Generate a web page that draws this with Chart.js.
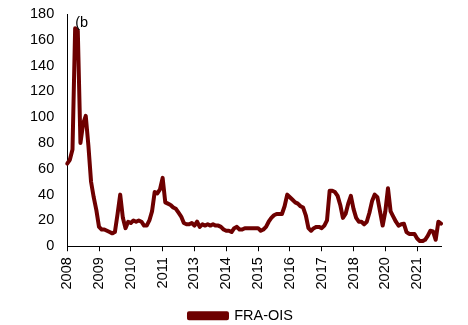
<!DOCTYPE html>
<html>
<head>
<meta charset="utf-8">
<script src="https://cdn.jsdelivr.net/npm/chart.js@4/dist/chart.umd.min.js"></script>
<style>
    html, body { margin: 0; padding: 0; background: #fff; }
    canvas { display: block; }
</style>
</head>
<body>
<canvas id="spread" width="468" height="325"></canvas>
<script>
const LINE_COLOR = '#6E0000';
const FONT = "'Liberation Sans', Arial, sans-serif";
const FONT_SIZE = 14.5;

// FRA-OIS spread, bp
const SERIES_NAME = 'FRA-OIS';
const FRA_OIS = [
    64, 67, 75, 169, 167, 80, 95, 101, 78, 50, 38, 28,
    15, 13, 13, 12, 11, 10, 11, 25, 40, 22, 14, 19,
    18, 20, 19, 20, 19, 16, 16, 20, 27, 42, 41, 44,
    53, 34, 33, 32, 30, 29, 26, 23, 18, 17, 17, 18,
    16, 19, 15, 17, 16, 17, 16, 17, 16, 16, 15, 13,
    12, 12, 11, 14, 15, 13, 13, 14, 14, 14, 14, 14,
    14, 12, 13, 15, 19, 22, 24, 25, 25, 25, 31, 40,
    38, 36, 34, 33, 31, 30, 24, 14, 12, 14, 15, 15,
    14, 16, 20, 43, 43, 42, 39, 32, 22, 25, 33, 39,
    29, 22, 19, 19, 17, 19, 26, 35, 40, 38, 27, 16,
    27, 45, 27, 23, 19, 16, 17, 17.5, 11, 9.5, 9.5, 9.5,
    6, 4, 4, 5, 8, 12, 11.5, 5, 19, 17.5
];

// one year label every LABEL_STEP observations
const TICK_LABELS = ['2008', '2009', '2010', '2011', '2013', '2014', '2015', '2016', '2017', '2018', '2020', '2021'];
const LABEL_STEP = 12;

const categories = FRA_OIS.map((_, i) => (i % LABEL_STEP === 0 ? TICK_LABELS[i / LABEL_STEP] || '' : ''));

// small "(b" caption sitting at the top left of the plot
const captionPlugin = {
    id: 'caption',
    afterDatasetsDraw(chart) {
        const {ctx, chartArea} = chart;
        ctx.save();
        ctx.font = `${FONT_SIZE}px ${FONT}`;
        ctx.fillStyle = '#000';
        ctx.textBaseline = 'alphabetic';
        ctx.fillText('(b', chartArea.left + 8, chartArea.top + 13);
        ctx.restore();
    }
};

// push the legend a bit lower and to the right once the layout is done
const legendShift = {
    id: 'legendShift',
    afterLayout(chart) {
        const legend = chart.legend;
        if (!legend) return;
        legend.top += 8;
        legend.bottom += 8;
        legend.left += 12;
        legend.right += 12;
        if (legend.adjustHitBoxes) legend.adjustHitBoxes();
    }
};

new Chart(document.getElementById('spread'), {
    type: 'line',
    data: {
        labels: categories,
        datasets: [{
            label: SERIES_NAME,
            data: FRA_OIS,
            borderColor: LINE_COLOR,
            backgroundColor: LINE_COLOR,
            borderWidth: 4,
            borderJoinStyle: 'round',
            borderCapStyle: 'round',
            pointRadius: 0,
            tension: 0,
        }]
    },
    options: {
        responsive: false,
        animation: false,
        layout: {
            padding: {top: 14, right: 27, left: 17, bottom: 0}
        },
        plugins: {
            legend: {
                position: 'bottom',
                labels: {
                    color: '#000',
                    font: {family: FONT, size: FONT_SIZE},
                    boxWidth: 38,
                    boxHeight: 5,
                    padding: 5,
                }
            },
            tooltip: {enabled: false}
        },
        scales: {
            x: {
                offset: false,
                border: {display: true, color: '#000', width: 1},
                grid: {
                    drawOnChartArea: false,
                    drawTicks: true,
                    tickLength: 5,
                    color: ctx => (ctx.index % LABEL_STEP === 0 ? '#000' : 'rgba(0,0,0,0)'),
                },
                ticks: {
                    autoSkip: false,
                    maxRotation: 90,
                    minRotation: 90,
                    padding: 6,
                    color: '#000',
                    font: {family: FONT, size: FONT_SIZE},
                }
            },
            y: {
                min: 0,
                max: 180,
                border: {display: true, color: '#000', width: 1},
                grid: {display: false, drawTicks: false},
                ticks: {
                    stepSize: 20,
                    padding: 13,
                    color: '#000',
                    font: {family: FONT, size: FONT_SIZE},
                },
                afterFit(scale) {
                    scale.paddingTop = 0;
                }
            }
        }
    },
    plugins: [captionPlugin, legendShift]
});
</script>
</body>
</html>
